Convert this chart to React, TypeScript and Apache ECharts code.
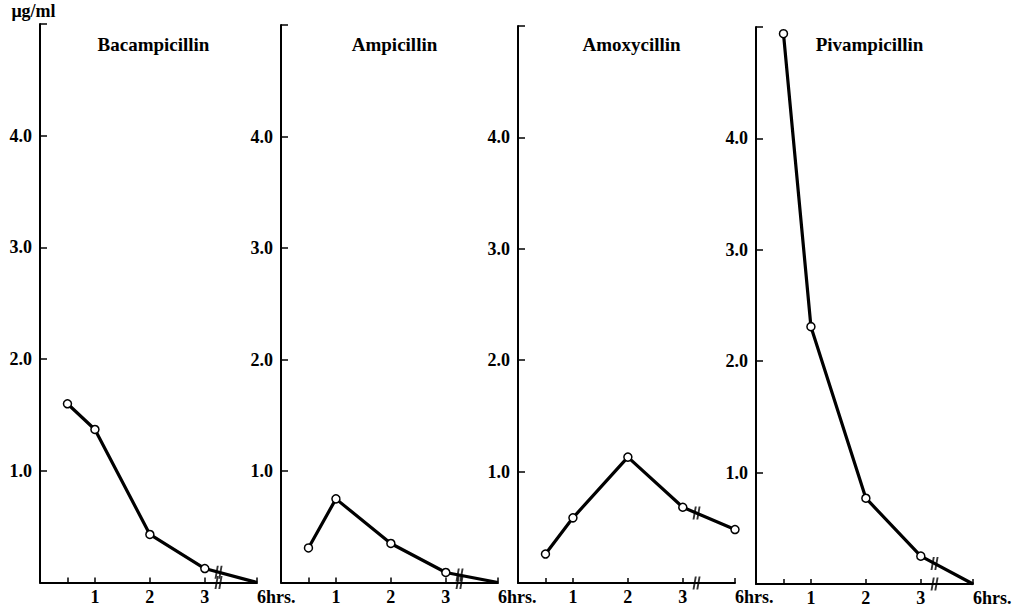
import React, { useEffect, useRef } from "react";
import * as echarts from "echarts";

// ---- data ----
const HOURS = [0.5, 1, 2, 3, 6];
const DRUGS = ["Bacampicillin", "Ampicillin", "Amoxycillin", "Pivampicillin"];
const BACAMPICILLIN = [1.6, 1.37, 0.43, 0.125, 0];
const AMPICILLIN = [0.31, 0.75, 0.35, 0.09, 0];
const AMOXYCILLIN = [0.26, 0.585, 1.13, 0.68, 0.48];
const PIVAMPICILLIN = [4.94, 2.31, 0.77, 0.25, 0];
const SERIES_VALUES = [BACAMPICILLIN, AMPICILLIN, AMOXYCILLIN, PIVAMPICILLIN];
const END_MARKED = [false, false, true, false];
const Y_TICKS = [1, 2, 3, 4];
const X_TICK_HOURS = [0.5, 1, 2, 3, 6];
const X_LABEL_HOURS = [1, 2, 3, 6];
const X_LABELS = ["1", "2", "3", "6hrs."];
const Y_UNIT = "μg/ml";

// ---- layout ----
const BREAK_POS = 3.25; // axis break between 3 and 6 hrs
const SIX_POS = 3.95; // where "6hrs." sits on the broken axis
const GRID_LEFT = [40, 281, 518, 756];
const GRID_TOP = [24, 25, 26, 27];
const GRID_BOTTOM_Y = [582.5, 582.5, 583, 584];
const GRID_WIDTH = 217;
const FONT = "'Liberation Serif', 'Times New Roman', serif";

const pos = (h: number) => (h > 3 ? SIX_POS : h);

function buildOption() {
  const grids: any[] = [];
  const xAxes: any[] = [];
  const yAxes: any[] = [];
  const series: any[] = [];
  const titles: any[] = [];

  DRUGS.forEach((drug, p) => {
    grids.push({
      left: GRID_LEFT[p],
      top: GRID_TOP[p],
      width: GRID_WIDTH,
      height: GRID_BOTTOM_Y[p] - GRID_TOP[p],
      containLabel: false,
      outerBoundsMode: "none",
    });
    titles.push({
      text: drug,
      left: GRID_LEFT[p] + GRID_WIDTH / 2,
      top: 30,
      textAlign: "center",
      textStyle: { fontFamily: FONT, fontWeight: "bold", fontSize: 19, color: "#000" },
    });
    xAxes.push({
      type: "value",
      gridIndex: p,
      min: 0,
      max: SIX_POS,
      splitLine: { show: false },
      axisLine: { show: true, onZero: false, lineStyle: { color: "#000", width: 2 } },
      axisTick: {
        show: true,
        inside: true,
        length: 5,
        customValues: X_TICK_HOURS.map(pos),
        lineStyle: { color: "#000", width: 1.5 },
      },
      axisLabel: {
        show: true,
        customValues: X_LABEL_HOURS.map(pos),
        margin: 5,
        color: "#000",
        fontFamily: FONT,
        fontWeight: "bold",
        fontSize: 18,
        hideOverlap: false,
        alignMaxLabel: "left",
        formatter: (v: number) => {
          const i = X_LABEL_HOURS.map(pos).findIndex((q) => Math.abs(q - v) < 1e-6);
          return i < 0 ? "" : X_LABELS[i];
        },
      },
    });
    yAxes.push({
      type: "value",
      gridIndex: p,
      min: 0,
      max: 5,
      interval: 1,
      splitLine: { show: false },
      name: p === 0 ? Y_UNIT : "",
      nameLocation: "end",
      nameGap: 4,
      nameTextStyle: {
        fontFamily: FONT,
        fontWeight: "bold",
        fontSize: 18,
        color: "#000",
        padding: [0, 13, 0, 0],
      },
      axisLine: { show: true, lineStyle: { color: "#000", width: 2 } },
      axisTick: { show: true, inside: true, length: 7, lineStyle: { color: "#000", width: 1.5 } },
      axisLabel: {
        show: true,
        customValues: Y_TICKS,
        margin: 8,
        color: "#000",
        fontFamily: FONT,
        fontWeight: "bold",
        fontSize: 18,
        formatter: (v: number) => v.toFixed(1),
      },
    });

    const vals = SERIES_VALUES[p];
    const last = HOURS.length - 1;
    series.push({
      type: "line",
      xAxisIndex: p,
      yAxisIndex: p,
      data: HOURS.map((h, i) => ({
        value: [pos(h), vals[i]],
        symbol: i === last && !END_MARKED[p] ? "none" : "circle",
      })),
      symbolSize: 8,
      lineStyle: { color: "#000", width: 3.2 },
      itemStyle: { color: "#fff", borderColor: "#000", borderWidth: 1.5 },
      z: 3,
    });
    // break marks on the line and on the axis
    const y3 = vals[last - 1];
    const y6 = vals[last];
    const frac = (BREAK_POS - 3) / (SIX_POS - 3);
    const yBreak = y3 + (y6 - y3) * frac;
    series.push({
      type: "scatter",
      xAxisIndex: p,
      yAxisIndex: p,
      data: [
        [BREAK_POS, yBreak],
        [BREAK_POS, 0],
      ],
      symbol: "path://M3,0 L5.5,0 L2.5,12 L0,12 Z M8,0 L10.5,0 L7.5,12 L5,12 Z",
      symbolSize: [8, 13],
      itemStyle: { color: "#000" },
      z: 4,
    });
  });

  return {
    animation: false,
    backgroundColor: "#fff",
    title: titles,
    grid: grids,
    xAxis: xAxes,
    yAxis: yAxes,
    series,
  };
}

export default function App() {
  const ref = useRef<HTMLDivElement>(null);
  useEffect(() => {
    if (!ref.current) return;
    const chart = echarts.init(ref.current, undefined, { renderer: "svg" });
    chart.setOption(buildOption() as any);
    return () => chart.dispose();
  }, []);
  return (
    <div
      ref={ref}
      style={{ position: "absolute", left: 0, top: 0, width: 1021, height: 613, background: "#fff" }}
    />
  );
}
